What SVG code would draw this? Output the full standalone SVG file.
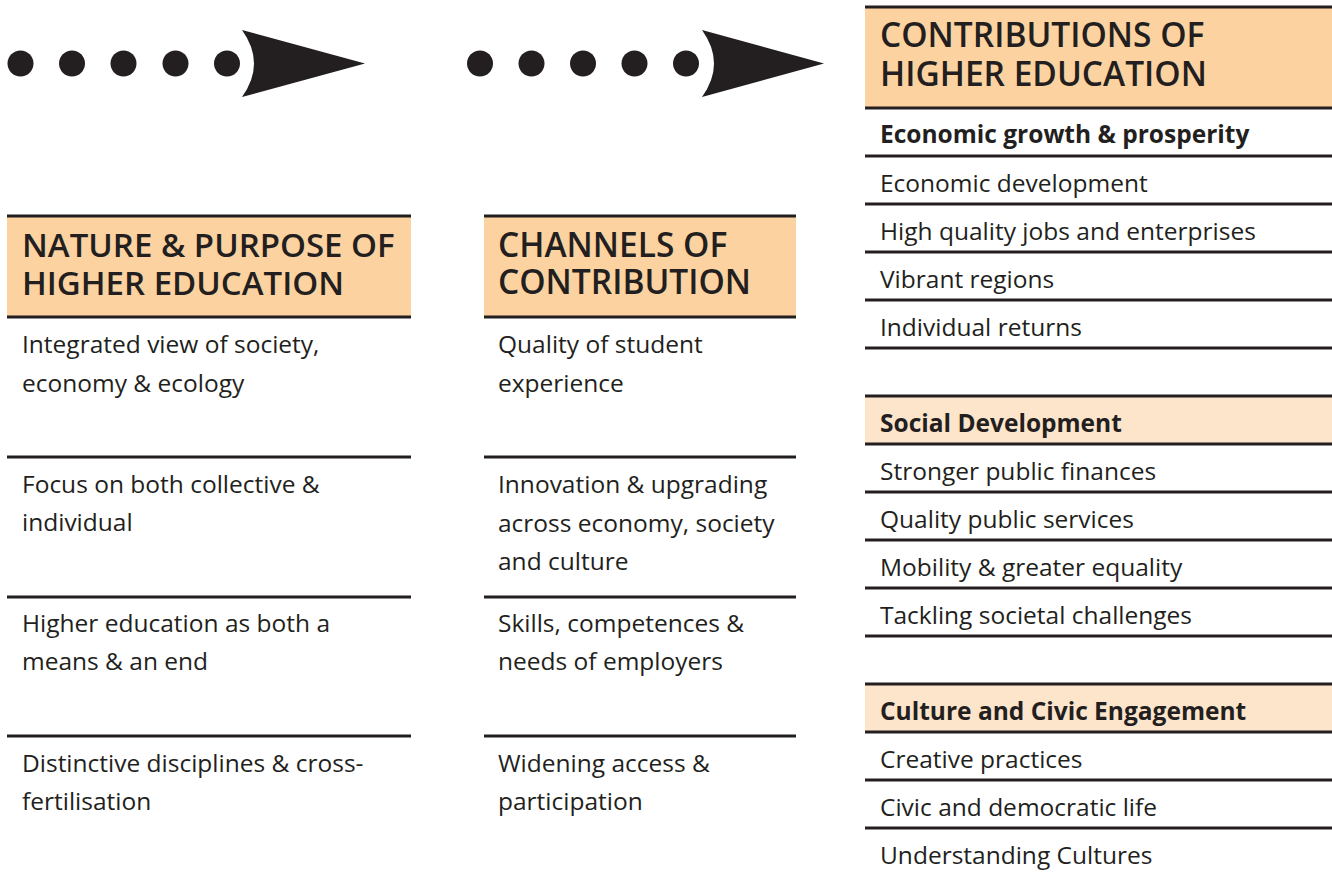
<svg xmlns="http://www.w3.org/2000/svg" width="1332" height="873" viewBox="0 0 1332 873">
<style>
  .hd { fill: #fcd3a0; }
  .sub { fill: #fde5cc; }
  .ln { stroke: #231f20; stroke-width: 3; fill: none; }
  .ht { font-family: "Open Sans", "Liberation Sans", sans-serif; font-weight: 600; font-size: 33px; fill: #231f20; }
  .bt { font-family: "Open Sans", "Liberation Sans", sans-serif; font-weight: 400; font-size: 24.5px; fill: #231f20; }
  .st { font-family: "Open Sans", "Liberation Sans", sans-serif; font-weight: 700; font-size: 24.5px; fill: #231f20; }
  .dot { fill: #231f20; }
</style>
<rect width="1332" height="873" fill="#ffffff"/>

<g id="connectors">
  <g id="arrow1">
    <circle class="dot" cx="20.5" cy="63.5" r="13"/>
    <circle class="dot" cx="72" cy="63.5" r="13"/>
    <circle class="dot" cx="123.5" cy="63.5" r="13"/>
    <circle class="dot" cx="175.5" cy="63.5" r="13"/>
    <circle class="dot" cx="227" cy="63.5" r="13"/>
    <path class="dot" d="M242,30 L365,63.5 L242,97 Q266,63.5 242,30 Z"/>
  </g>
  <g id="arrow2">
    <circle class="dot" cx="480" cy="63.5" r="13"/>
    <circle class="dot" cx="531.5" cy="63.5" r="13"/>
    <circle class="dot" cx="583" cy="63.5" r="13"/>
    <circle class="dot" cx="634.5" cy="63.5" r="13"/>
    <circle class="dot" cx="686" cy="63.5" r="13"/>
    <path class="dot" d="M702,30 L824,63.5 L702,97 Q726,63.5 702,30 Z"/>
  </g>
</g>

<g id="nature">
  <rect class="hd" x="7" y="216" width="404" height="101"/>
  <line class="ln" x1="7" y1="216" x2="411" y2="216"/>
  <line class="ln" x1="7" y1="317" x2="411" y2="317"/>
  <text class="ht"><tspan x="22" y="257">NATURE &amp; PURPOSE OF</tspan><tspan x="22" y="295">HIGHER EDUCATION</tspan></text>
  <text class="bt" x="22" y="353">Integrated view of society,</text>
  <text class="bt" x="22" y="392">economy &amp; ecology</text>
  <line class="ln" x1="7" y1="457" x2="411" y2="457"/>
  <text class="bt" x="22" y="493">Focus on both collective &amp;</text>
  <text class="bt" x="22" y="531">individual</text>
  <line class="ln" x1="7" y1="597" x2="411" y2="597"/>
  <text class="bt" x="22" y="632">Higher education as both a</text>
  <text class="bt" x="22" y="670">means &amp; an end</text>
  <line class="ln" x1="7" y1="736" x2="411" y2="736"/>
  <text class="bt" x="22" y="772">Distinctive disciplines &amp; cross-</text>
  <text class="bt" x="22" y="810">fertilisation</text>
</g>

<g id="channels">
  <rect class="hd" x="484" y="216" width="312" height="101"/>
  <line class="ln" x1="484" y1="216" x2="796" y2="216"/>
  <line class="ln" x1="484" y1="317" x2="796" y2="317"/>
  <text class="ht" style="font-size:33.5px"><tspan x="498" y="257">CHANNELS OF</tspan><tspan x="498" y="294">CONTRIBUTION</tspan></text>
  <text class="bt" x="498" y="353">Quality of student</text>
  <text class="bt" x="498" y="392">experience</text>
  <line class="ln" x1="484" y1="457" x2="796" y2="457"/>
  <text class="bt" x="498" y="493">Innovation &amp; upgrading</text>
  <text class="bt" x="498" y="532">across economy, society</text>
  <text class="bt" x="498" y="570">and culture</text>
  <line class="ln" x1="484" y1="597" x2="796" y2="597"/>
  <text class="bt" x="498" y="632">Skills, competences &amp;</text>
  <text class="bt" x="498" y="670">needs of employers</text>
  <line class="ln" x1="484" y1="736" x2="796" y2="736"/>
  <text class="bt" x="498" y="772">Widening access &amp;</text>
  <text class="bt" x="498" y="810">participation</text>
</g>

<g id="contributions">
  <rect class="hd" x="865" y="7" width="467" height="101"/>
  <line class="ln" x1="865" y1="7" x2="1332" y2="7"/>
  <line class="ln" x1="865" y1="108" x2="1332" y2="108"/>
  <text class="ht" style="font-size:33.5px"><tspan x="880" y="47">CONTRIBUTIONS OF</tspan><tspan x="880" y="86">HIGHER EDUCATION</tspan></text>

  <text class="st" x="880" y="143">Economic growth &amp; prosperity</text>
  <line class="ln" x1="865" y1="156" x2="1332" y2="156"/>
  <text class="bt" x="880" y="192">Economic development</text>
  <line class="ln" x1="865" y1="204" x2="1332" y2="204"/>
  <text class="bt" x="880" y="240">High quality jobs and enterprises</text>
  <line class="ln" x1="865" y1="252" x2="1332" y2="252"/>
  <text class="bt" x="880" y="288">Vibrant regions</text>
  <line class="ln" x1="865" y1="300" x2="1332" y2="300"/>
  <text class="bt" x="880" y="336">Individual returns</text>
  <line class="ln" x1="865" y1="348" x2="1332" y2="348"/>

  <rect class="sub" x="865" y="396" width="467" height="48"/>
  <line class="ln" x1="865" y1="396" x2="1332" y2="396"/>
  <text class="st" x="880" y="432">Social Development</text>
  <line class="ln" x1="865" y1="444" x2="1332" y2="444"/>
  <text class="bt" x="880" y="480">Stronger public finances</text>
  <line class="ln" x1="865" y1="492" x2="1332" y2="492"/>
  <text class="bt" x="880" y="528">Quality public services</text>
  <line class="ln" x1="865" y1="540" x2="1332" y2="540"/>
  <text class="bt" x="880" y="576">Mobility &amp; greater equality</text>
  <line class="ln" x1="865" y1="588" x2="1332" y2="588"/>
  <text class="bt" x="880" y="624">Tackling societal challenges</text>
  <line class="ln" x1="865" y1="636" x2="1332" y2="636"/>

  <rect class="sub" x="865" y="684" width="467" height="48"/>
  <line class="ln" x1="865" y1="684" x2="1332" y2="684"/>
  <text class="st" x="880" y="720">Culture and Civic Engagement</text>
  <line class="ln" x1="865" y1="732" x2="1332" y2="732"/>
  <text class="bt" x="880" y="768">Creative practices</text>
  <line class="ln" x1="865" y1="780" x2="1332" y2="780"/>
  <text class="bt" x="880" y="816">Civic and democratic life</text>
  <line class="ln" x1="865" y1="828" x2="1332" y2="828"/>
  <text class="bt" x="880" y="864">Understanding Cultures</text>
</g>
</svg>
